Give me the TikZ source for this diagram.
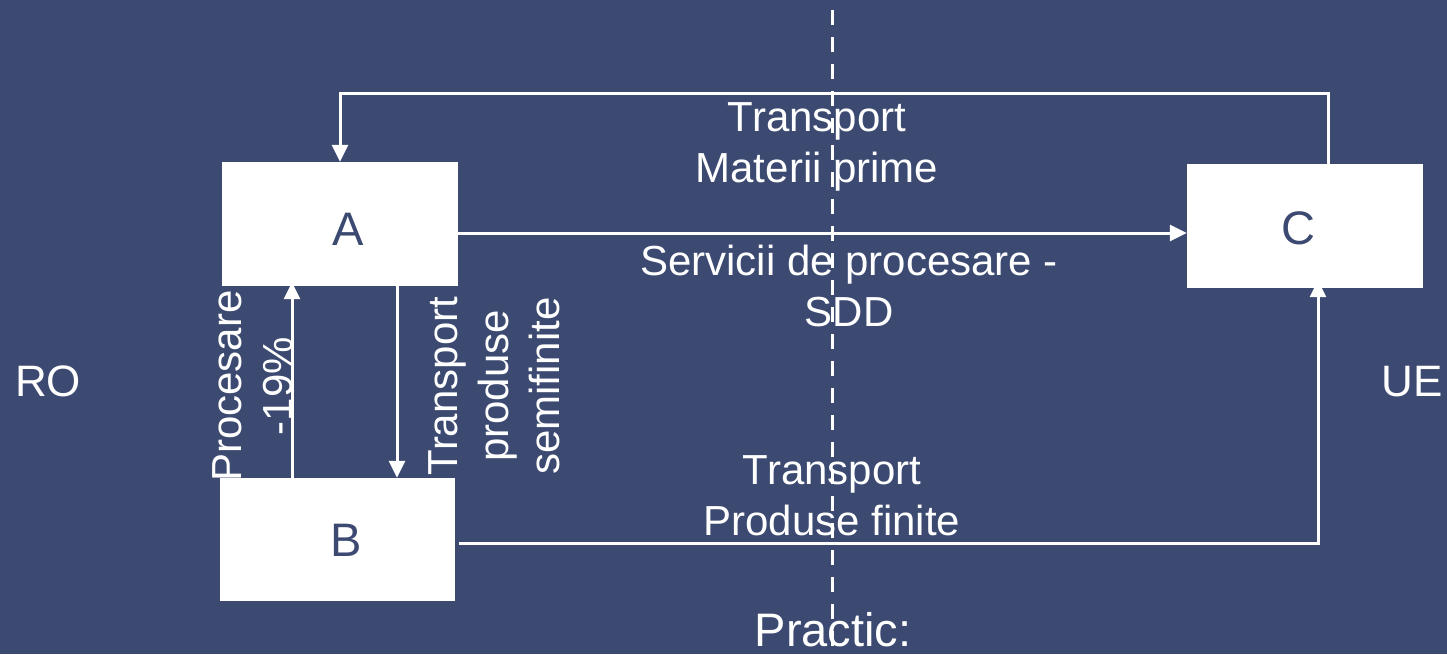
\documentclass[tikz,border=0pt]{standalone}
\usepackage{fontspec}
\setmainfont{Liberation Sans}
\usetikzlibrary{arrows.meta,calc}
\definecolor{bg}{HTML}{3C4A72}
\begin{document}
\begin{tikzpicture}[x=1pt,y=-1pt,
  box/.style={fill=white,draw=none,inner sep=0pt,text=bg,font=\fontsize{47}{52}\selectfont},
  lbl/.style={text=white,inner sep=0pt,align=center,font=\fontsize{42}{51}\selectfont},
  side/.style={text=white,inner sep=0pt,font=\fontsize{44}{52}\selectfont},
  conn/.style={draw=white,line width=3pt,-{Triangle[length=17pt,width=16pt]}},
  divider/.style={draw=white,line width=3pt,dash pattern=on 15pt off 12pt}]
\useasboundingbox (0,0) rectangle (1447,654);
\fill[bg] (0,0) rectangle (1447,654);
% labels
\node[lbl] (lmp) at (817,147) {Transport\\Materii prime};
\node[lbl] (lsp) at (849,286) {Servicii de procesare -\\SDD};
\node[lbl] (lpf) at (832,496) {Transport\\Produse finite};
\node[lbl,anchor=base,font=\fontsize{47}{54}\selectfont] (lpr) at (833,646) {Practic:};
\node[side,anchor=base west] (lro) at (15,396) {RO};
\node[side,anchor=base east] (lue) at (1443,396) {UE};
\node[lbl,rotate=90] (lproc) at (253,386) {Procesare\\-19\%};
\node[lbl,rotate=90] (lsemi) at (494,386) {Transport\\produse\\semifinite};
% boxes
\node[box,minimum width=236pt,minimum height=124pt,text height=43.6pt,text depth=0pt] (A) at (340,224) {\hspace*{16pt}A};
\node[box,minimum width=235pt,minimum height=123pt,text height=33.6pt,text depth=0pt] (B) at (337.5,539.5) {\hspace*{18pt}B};
\node[box,minimum width=236pt,minimum height=124pt,text height=36.6pt,text depth=0pt] (C) at (1305,226) {C\hspace*{14pt}};
% connector guide coordinates
\coordinate (loopR) at (1328,93);
\coordinate (acy) at (0,233);
\coordinate (bcy) at (0,543);
\coordinate (bcx) at (1318,0);
\coordinate (upx) at (292,0);
\coordinate (dnx) at (397,0);
% connectors
\draw[conn] (loopR |- C.north) -- (loopR) -| (A.north);
\draw[conn] (A.east |- acy) -- (C.west |- acy);
\draw[conn] ([xshift=4pt]B.east |- bcy) -| ([yshift=8pt]C.south -| bcx);
\draw[conn] (B.north -| upx) -- ([yshift=4pt]A.south -| upx);
\draw[conn] ([yshift=4pt]A.south -| dnx) -- (B.north -| dnx);
% divider
\coordinate (dtop) at (832,10);
\coordinate (dbot) at (832,654);
\draw[divider] (dtop) -- (dbot);
\end{tikzpicture}
\end{document}
